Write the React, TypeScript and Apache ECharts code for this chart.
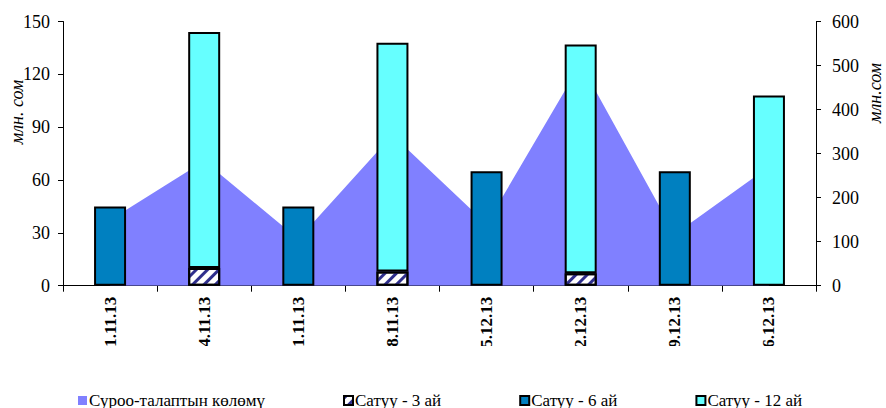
import React, { useEffect, useRef } from 'react';
import * as echarts from 'echarts';

const categories = ['01.11.13', '14.11.13', '21.11.13', '28.11.13', '05.12.13', '12.12.13', '19.12.13', '26.12.13'];
const demandValues = [149, 283, 106, 342, 140, 504, 117, 270];
const sales3m = [null, 10, null, 8, null, 7, null, null];
const sales6m = [45, null, 45, null, 65, null, 65, null];
const sales12m = [null, 134, null, 130, null, 130, null, 108];
const seriesNames = ['Суроо-талаптын көлөмү', 'Сатуу - 3 ай', 'Сатуу - 6 ай', 'Сатуу - 12 ай'];
const leftAxisName = 'млн. сом';
const rightAxisName = 'млн.сом';

const SERIF = '"Liberation Serif", "Times New Roman", serif';

export default function App() {
  const ref = useRef<HTMLDivElement>(null);
  useEffect(() => {
    if (!ref.current) return;
    const chart = echarts.init(ref.current, undefined, { renderer: 'svg' });
    const barBorder = { borderColor: '#000', borderWidth: 2 };
    chart.setOption({
      animation: false,
      backgroundColor: '#fff',
      textStyle: { fontFamily: SERIF },
      grid: { left: 63, right: 70, top: 21.5, bottom: 122.3, containLabel: false },
      legend: {
        data: seriesNames.map((n) => ({ name: n, icon: 'rect' })),
        left: 73,
        top: 387,
        itemWidth: 9,
        itemHeight: 9,
        itemGap: 78,
        textStyle: { fontFamily: SERIF, fontSize: 17, color: '#000', padding: [0, 0, 0, -3] },
      },
      xAxis: {
        type: 'category',
        data: categories,
        boundaryGap: true,
        axisLine: { lineStyle: { color: '#000', width: 1 } },
        axisTick: { show: true, length: 6, lineStyle: { color: '#000' } },
        axisLabel: {
          rotate: 90,
          margin: 11,
          fontFamily: SERIF,
          fontWeight: 'bold',
          fontSize: 17,
          color: '#000',
          interval: 0,
        },
        splitLine: { show: false },
      },
      yAxis: [
        {
          type: 'value',
          min: 0,
          max: 150,
          interval: 30,
          position: 'left',
          axisLine: { show: true, lineStyle: { color: '#000' } },
          axisTick: { show: true, length: 5, lineStyle: { color: '#000' } },
          axisLabel: { fontFamily: SERIF, fontSize: 18, color: '#000', margin: 13 },
          splitLine: { show: false },
        },
        {
          type: 'value',
          min: 0,
          max: 600,
          interval: 100,
          position: 'right',
          axisLine: { show: true, lineStyle: { color: '#000' } },
          axisTick: { show: true, length: 5, lineStyle: { color: '#000' } },
          axisLabel: { fontFamily: SERIF, fontSize: 18, color: '#000', margin: 16 },
          splitLine: { show: false },
        },
      ],
      graphic: [
        {
          type: 'rect',
          left: 64,
          top: 346,
          shape: { width: 752, height: 36 },
          style: { fill: '#fff' },
          z: 100,
        },
        {
          type: 'text',
          x: 17,
          y: 112,
          rotation: Math.PI / 2,
          style: {
            text: leftAxisName,
            font: 'italic 18px "Liberation Serif"',
            fill: '#000',
            align: 'center',
            verticalAlign: 'middle',
          },
        },
        {
          type: 'text',
          x: 875,
          y: 93,
          rotation: Math.PI / 2,
          style: {
            text: rightAxisName,
            font: 'italic 18px "Liberation Serif"',
            fill: '#000',
            align: 'center',
            verticalAlign: 'middle',
          },
        },
      ],
      series: [
        {
          name: seriesNames[0],
          type: 'line',
          yAxisIndex: 1,
          data: demandValues,
          symbol: 'none',
          lineStyle: { width: 0, color: '#8080FF' },
          itemStyle: { color: '#8080FF', borderWidth: 0 },
          areaStyle: { color: '#8080FF', opacity: 1 },
          z: 1,
        },
        {
          name: seriesNames[1],
          type: 'bar',
          stack: 'sales',
          data: sales3m,
          barWidth: 32,
          itemStyle: {
            color: '#fff',
            ...barBorder,
            decal: {
              symbol: 'rect',
              symbolSize: 1,
              color: '#2E2E8C',
              dashArrayX: [1, 0],
              dashArrayY: [3, 5],
              rotation: -Math.PI / 4,
            },
          },
          z: 3,
        },
        {
          name: seriesNames[2],
          type: 'bar',
          stack: 'sales',
          data: sales6m,
          barWidth: 32,
          itemStyle: { color: '#0080C0', ...barBorder },
          z: 3,
        },
        {
          name: seriesNames[3],
          type: 'bar',
          stack: 'sales',
          data: sales12m,
          barWidth: 32,
          itemStyle: { color: '#66FFFF', ...barBorder },
          z: 3,
        },
      ],
    });
    return () => chart.dispose();
  }, []);
  return (
    <div
      ref={ref}
      style={{ position: 'absolute', left: 0, top: 0, width: 886, height: 408 }}
    />
  );
}
